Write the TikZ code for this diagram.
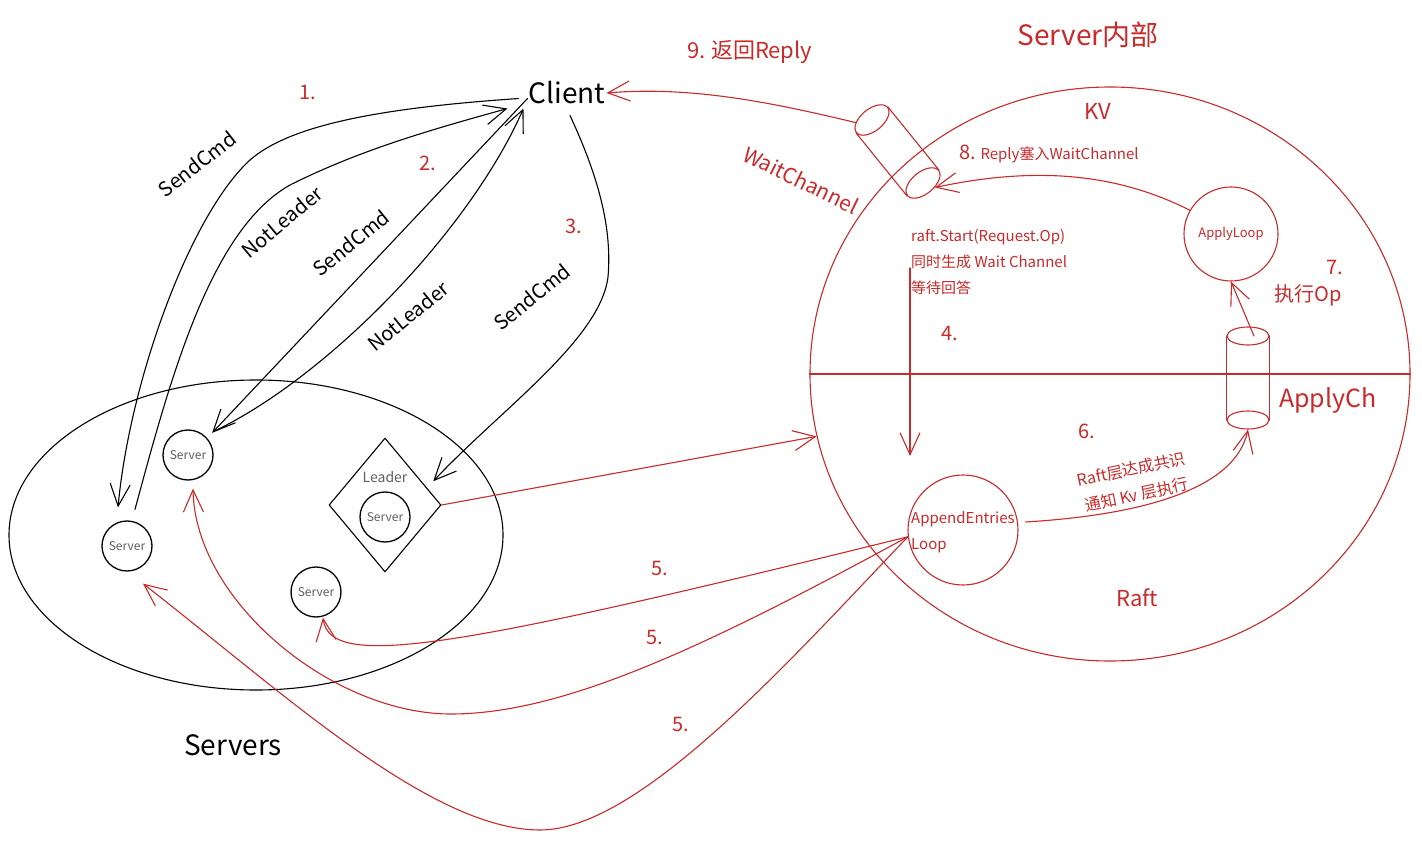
\documentclass[tikz,border=0pt]{standalone}
\usepackage{fontspec}
\setmainfont{Noto Sans CJK SC}
\usetikzlibrary{arrows.meta,shapes.geometric}
\definecolor{rd}{RGB}{201,42,42}
\definecolor{lbl}{RGB}{95,95,95}
\newcommand\fz[2]{\fontsize{#1}{#2}\selectfont}
\begin{document}
\begin{tikzpicture}[x=1pt,y=-1pt,
  ln/.style={line width=1.1pt,line cap=round,line join=round},
  blk/.style={ln,draw=black},
  rln/.style={ln,draw=rd},
  arr/.style={-{Straight Barb[length=22pt,width=20pt]}},
  srv/.style={circle,draw=black,line width=1.3pt,minimum size=50pt,inner sep=0pt,font=\fz{12}{14},text=lbl},
  rtxt/.style={text=rd,inner sep=1pt},
  btxt/.style={text=black,inner sep=1pt},
  num/.style={rtxt,font=\fz{20}{24}},
  cyl/.style={ellipse,draw=rd,line width=1.1pt,inner sep=0pt}]
\fill[white] (0,0) rectangle (1422,842);
\useasboundingbox (0,0) rectangle (1422,842);

% ---------- left: client and servers ----------
\node[btxt,font=\fz{28}{32}] (client) at (567,93) {Client};
\node[ellipse,blk,minimum width=494pt,minimum height=310pt,inner sep=0pt] (cluster) at (256,535) {};
\node[srv] (srvA) at (127,546) {Server};
\node[srv] (srvB) at (188,455) {Server};
\node[diamond,blk,minimum width=112pt,minimum height=134pt,inner sep=0pt] (leader) at (385,505) {};
\node[text=lbl,font=\fz{14}{16},inner sep=1pt] (leaderlbl) at (385,477) {Leader};
\node[srv] (srvL) at (385,517) {Server};
\node[srv] (srvC) at (316,592) {Server};
\node[btxt,font=\fz{28}{32}] (servers) at (233,745) {Servers};

\node[num] (n1) at (308,93) {1.};
\node[num] (n2) at (428,163) {2.};
\node[num] (n3) at (574,226) {3.};
\node[btxt,font=\fz{20}{24},rotate=38] (l1) at (197,164) {SendCmd};
\node[btxt,font=\fz{20}{24},rotate=40] (l2) at (282,222) {NotLeader};
\node[btxt,font=\fz{20}{24},rotate=39] (l3) at (351,243) {SendCmd};
\node[btxt,font=\fz{20}{24},rotate=39] (l4) at (408,316) {NotLeader};
\node[btxt,font=\fz{20}{24},rotate=39] (l5) at (532,297) {SendCmd};

% black connectors
\draw[blk,arr] ([shift={(-9,-7)}]client.south west) .. controls (380,108) and (290,125) .. (250,160)
   .. controls (190,215) and (130,380) .. ([shift={(-9,-13)}]srvA.north);
\draw[blk,arr] ([shift={(8,-11)}]srvA.north) .. controls (170,380) and (210,230) .. (290,185)
   .. controls (360,150) and (430,130) .. ([shift={(-20,3)}]client.south west);
\draw[blk,arr] ([shift={(0,-7)}]client.south west) -- ([shift={(6,-4)}]srvB.45);
\draw[blk,arr] ([shift={(8,-8)}]srvB.40) .. controls (330,375) and (470,230) .. ([shift={(-4,3)}]client.south west);
\draw[blk,arr] ([shift={(3,10)}]client.south) .. controls (600,180) and (612,230) .. (608,277)
   .. controls (600,340) and (500,410) .. ([shift={(20,10)}]leader.north east);

% ---------- right: server internals ----------
\node[ellipse,rln,minimum width=600pt,minimum height=574pt,inner sep=0pt] (raftC) at (1110,374) {};
\draw[rln] (raftC.west) -- (raftC.east);
\node[rtxt,font=\fz{28}{32}] (tserver) at (1088,35) {Server内部};
\node[rtxt,font=\fz{22}{26}] (t9) at (750,52) {9.\ 返回Reply};
\node[rtxt,font=\fz{22}{26}] (kv) at (1098,111) {KV};
\node[rtxt,font=\fz{21}{24},rotate=-26] (wclbl) at (801,180) {WaitChannel};
\node[rtxt,font=\fz{15}{18}] (t8) at (1049,154) {{\fz{20}{24}8.} Reply塞入WaitChannel};
\node[rtxt,font=\fz{15}{26},align=left,anchor=west] (t4txt) at (910,262) {raft.Start(Request.Op)\\同时生成 Wait Channel\\等待回答};
\node[num] (n4) at (950,334) {4.};
\node[num] (n7) at (1335,268) {7.};
\node[rtxt,font=\fz{20}{24}] (t7) at (1308,295) {执行Op};
\node[rtxt,font=\fz{25}{30}] (applych) at (1328,400) {ApplyCh};
\node[num] (n6) at (1087,431) {6.};
\node[rtxt,font=\fz{16}{26},align=center,rotate=12] (t6) at (1134,482) {Raft层达成共识\\通知 Kv 层执行};
\node[rtxt,font=\fz{22}{26}] (raftlbl) at (1137,598) {Raft};
\node[num] (n5a) at (660,568) {5.};
\node[num] (n5b) at (655,637) {5.};
\node[num] (n5c) at (681,724) {5.};

% WaitChannel cylinder
\node[cyl,minimum width=40pt,minimum height=22pt,rotate=39] (wcT) at (872,120) {};
\node[cyl,minimum width=40pt,minimum height=22pt,rotate=39] (wcB) at (923,183) {};
\draw[rln] (wcT.east) -- (wcB.east);
\draw[rln] (wcT.west) -- (wcB.west);

% ApplyCh cylinder
\node[cyl,minimum width=42pt,minimum height=18pt] (acT) at (1248,336) {};
\node[cyl,minimum width=42pt,minimum height=18pt] (acB) at (1248,420) {};
\draw[rln] (acT.west) -- (acB.west);
\draw[rln] (acT.east) -- (acB.east);

% loops
\node[circle,rln,minimum size=94pt,inner sep=0pt,text=rd,font=\fz{13}{15}] (al) at (1231,234) {ApplyLoop};
\node[circle,rln,minimum size=110pt,inner sep=0pt] (ae) at (963,530) {};
\node[rtxt,font=\fz{15}{26},align=left,anchor=west] (aetxt) at (910,532) {AppendEntries\\Loop};

\coordinate (a4s) at (910,268);
\coordinate (a4e) at (910,456);

% red connectors
\draw[rln,arr] (wcT.150) .. controls (770,102) and (690,86) .. (client.east);
\draw[rln,arr] (al.150) .. controls (1120,175) and (1040,165) .. (wcB.-60);
\draw[rln,arr] (leader.east) -- (raftC.192);
\draw[rln,arr] (a4s) -- (a4e);
\draw[rln,arr] ([shift={(7,-8)}]ae.east) .. controls (1140,515) and (1235,490) .. (acB.south);
\draw[rln,arr] ([xshift=6pt]acT.center) -- (al.south);
\draw[rln,arr] (ae.187) .. controls (450,650) and (330,670) .. ([xshift=7pt]srvC.south);
\draw[rln,arr] (ae.187) .. controls (700,650) and (560,715) .. (448,714)
   .. controls (330,712) and (195,600) .. ([shift={(5,8)}]srvB.south);
\draw[rln,arr] (ae.187) .. controls (790,660) and (640,830) .. (540,830)
   .. controls (430,830) and (280,690) .. ([shift={(16,12)}]srvA.south);
\end{tikzpicture}
\end{document}
